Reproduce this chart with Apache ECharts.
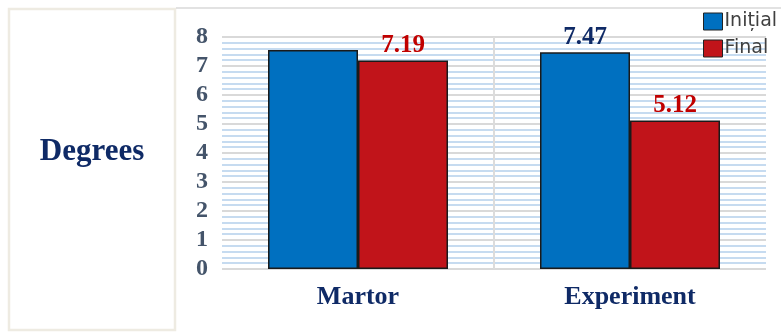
<!DOCTYPE html>
<html>
<head>
<meta charset="utf-8">
<script src="https://cdn.jsdelivr.net/npm/echarts@6/dist/echarts.min.js"></script>
<style>
  html, body { margin: 0; padding: 0; background: #fff; }
  #chart { width: 781px; height: 332px; }
</style>
</head>
<body>
<div id="chart"></div>
<script>
var categories = ['Martor', 'Experiment'];
var seriesNames = ['Inițial', 'Final'];
var initialValues = [7.55, 7.47];
var finalValues = [7.19, 5.12];
var initialLabelShown = [false, true]; // Martor initial has no label in the picture
var yTicks = [0, 1, 2, 3, 4, 5, 6, 7, 8];

var serif = '"Liberation Serif", "DejaVu Serif", serif';

var chart = echarts.init(document.getElementById('chart'));

var option = {
    animation: false,
    color: ['#0070c0', '#c1141a'],
    graphic: [
        {
            type: 'rect',
            shape: { x: 9, y: 9, width: 166, height: 321 },
            style: { fill: '#fff', stroke: '#eeebe2', lineWidth: 2.5 }
        },
        {
            type: 'line',
            shape: { x1: 176, y1: 8, x2: 781, y2: 8 },
            style: { stroke: '#d9d9d9', lineWidth: 1.5 }
        },
        {
            type: 'text',
            x: 92,
            y: 152,
            style: {
                text: 'Degrees',
                fill: '#0f2a66',
                font: 'bold 31px ' + serif,
                align: 'center',
                verticalAlign: 'middle'
            }
        }
    ],
    legend: {
        orient: 'vertical',
        left: 698,
        top: 7,
        icon: 'rect',
        itemWidth: 19,
        itemHeight: 17,
        itemGap: 8,
        data: seriesNames,
        itemStyle: { borderColor: '#222', borderWidth: 1 },
        textStyle: {
            color: '#404040',
            fontFamily: '"DejaVu Sans", Verdana, sans-serif',
            fontSize: 19,
            padding: [0, 0, 0, -3]
        }
    },
    grid: {
        left: 222,
        right: 15,
        top: 37,
        bottom: 63
    },
    xAxis: {
        type: 'category',
        data: categories,
        axisLine: { show: false },
        axisTick: { show: false },
        splitLine: {
            show: true,
            showMinLine: false,
            showMaxLine: false,
            lineStyle: { color: '#dcdcdc', width: 2 }
        },
        axisLabel: {
            margin: 15,
            color: '#0f2a66',
            fontFamily: serif,
            fontWeight: 'bold',
            fontSize: 26
        }
    },
    yAxis: {
        type: 'value',
        min: yTicks[0],
        max: yTicks[yTicks.length - 1],
        interval: 1,
        axisLine: { show: false },
        axisTick: { show: false },
        minorTick: { show: false, splitNumber: 5 },
        splitLine: { lineStyle: { color: '#d9d9d9', width: 2 } },
        minorSplitLine: { show: true, lineStyle: { color: '#c6dbf0', width: 2 } },
        axisLabel: {
            margin: 14,
            color: '#44546a',
            fontFamily: serif,
            fontWeight: 'bold',
            fontSize: 24
        }
    },
    series: [
        {
            name: seriesNames[0],
            type: 'bar',
            barWidth: 90,
            barGap: '0%',
            itemStyle: { borderColor: '#1a1a1a', borderWidth: 1.5 },
            label: {
                show: true,
                position: 'top',
                distance: 2,
                color: '#0f2a66',
                fontFamily: serif,
                fontWeight: 'bold',
                fontSize: 25
            },
            data: initialValues.map(function (v, i) {
                return { value: v, label: { show: initialLabelShown[i] } };
            })
        },
        {
            name: seriesNames[1],
            type: 'bar',
            barWidth: 90,
            barGap: '0%',
            itemStyle: { borderColor: '#1a1a1a', borderWidth: 1.5 },
            label: {
                show: true,
                position: 'top',
                distance: 2,
                color: '#c00000',
                fontFamily: serif,
                fontWeight: 'bold',
                fontSize: 25
            },
            data: finalValues
        }
    ]
};

chart.setOption(option);
</script>
</body>
</html>
